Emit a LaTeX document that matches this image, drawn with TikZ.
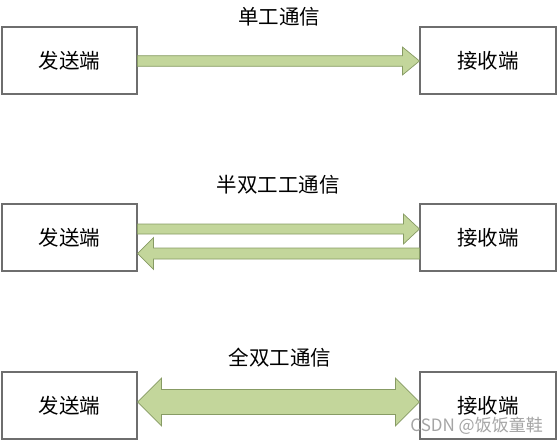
\documentclass[tikz,border=0pt]{standalone}
\usepackage{fontspec}
\newfontfamily\cjk{Noto Sans CJK SC}
\usetikzlibrary{calc}
\definecolor{arrfill}{RGB}{195,214,155}
\definecolor{arrline}{RGB}{135,155,100}
\definecolor{boxline}{RGB}{110,110,110}
\definecolor{wmark}{RGB}{165,165,165}
\tikzset{
  endbox/.style={draw=boxline, line width=1.1pt, fill=white, minimum width=135pt, minimum height=67pt, inner sep=0pt, font=\cjk\fontsize{20.5}{24}\selectfont},
  titletext/.style={inner sep=0pt, font=\cjk\fontsize{20.5}{24}\selectfont},
  arrowbody/.style={fill=arrfill, draw=arrline, line width=0.7pt, line join=miter},
}
% right arrow: from #1.east to #2.west, y offset #3, shaft half #4, head half #5, head length #6
\newcommand\rightArr[6]{%
  \path[arrowbody] let \p1=(#1.east), \p2=(#2.west) in
    (\x1,\y1+#3-#4) -- (\x2-#6,\y1+#3-#4) -- (\x2-#6,\y1+#3-#5) -- (\x2,\y1+#3)
    -- (\x2-#6,\y1+#3+#5) -- (\x2-#6,\y1+#3+#4) -- (\x1,\y1+#3+#4) -- cycle;}
% left arrow: tip at #1.east, tail at #2.west
\newcommand\leftArr[6]{%
  \path[arrowbody] let \p1=(#1.east), \p2=(#2.west) in
    (\x2,\y1+#3-#4) -- (\x1+#6,\y1+#3-#4) -- (\x1+#6,\y1+#3-#5) -- (\x1,\y1+#3)
    -- (\x1+#6,\y1+#3+#5) -- (\x1+#6,\y1+#3+#4) -- (\x2,\y1+#3+#4) -- cycle;}
% double arrow between #1.east and #2.west
\newcommand\bothArr[6]{%
  \path[arrowbody] let \p1=(#1.east), \p2=(#2.west) in
    (\x1,\y1+#3) -- (\x1+#6,\y1+#3+#5) -- (\x1+#6,\y1+#3+#4) -- (\x2-#6,\y1+#3+#4)
    -- (\x2-#6,\y1+#3+#5) -- (\x2,\y1+#3) -- (\x2-#6,\y1+#3-#5) -- (\x2-#6,\y1+#3-#4)
    -- (\x1+#6,\y1+#3-#4) -- (\x1+#6,\y1+#3-#5) -- cycle;}
\begin{document}
\begin{tikzpicture}[x=1pt,y=-1pt]
\useasboundingbox (0,0) rectangle (559,442);
% row 1
\node[endbox] (s1) at (69.5,60.5) {发送端};
\node[endbox, minimum width=136pt] (r1) at (488,60.5) {接收端};
\node[titletext] (t1) at (279,17) {单工通信};
\rightArr{s1}{r1}{-0.5pt}{5.3pt}{14pt}{17pt}
% row 2
\node[endbox] (s2) at (69.5,237.5) {发送端};
\node[endbox, minimum width=136pt] (r2) at (488,237.5) {接收端};
\node[titletext] (t2) at (278,185) {半双工工通信};
\rightArr{s2}{r2}{8.5pt}{5pt}{15pt}{16pt}
\leftArr{s2}{r2}{-16pt}{5.5pt}{16pt}{16pt}
% row 3
\node[endbox] (s3) at (69.5,405.5) {发送端};
\node[endbox, minimum width=136pt, text depth=0pt] (r3) at (488,405.5) {\raisebox{2pt}{接收端}};
\node[titletext] (t3) at (280,358) {全双工通信};
\bothArr{s3}{r3}{3.5pt}{12.5pt}{24pt}{24pt}
% watermark
\node[inner sep=0pt, anchor=east, text=wmark, font=\cjk\fontsize{17}{19}\selectfont] (wm) at (543,426) {CSDN @饭饭童鞋};
\end{tikzpicture}
\end{document}
